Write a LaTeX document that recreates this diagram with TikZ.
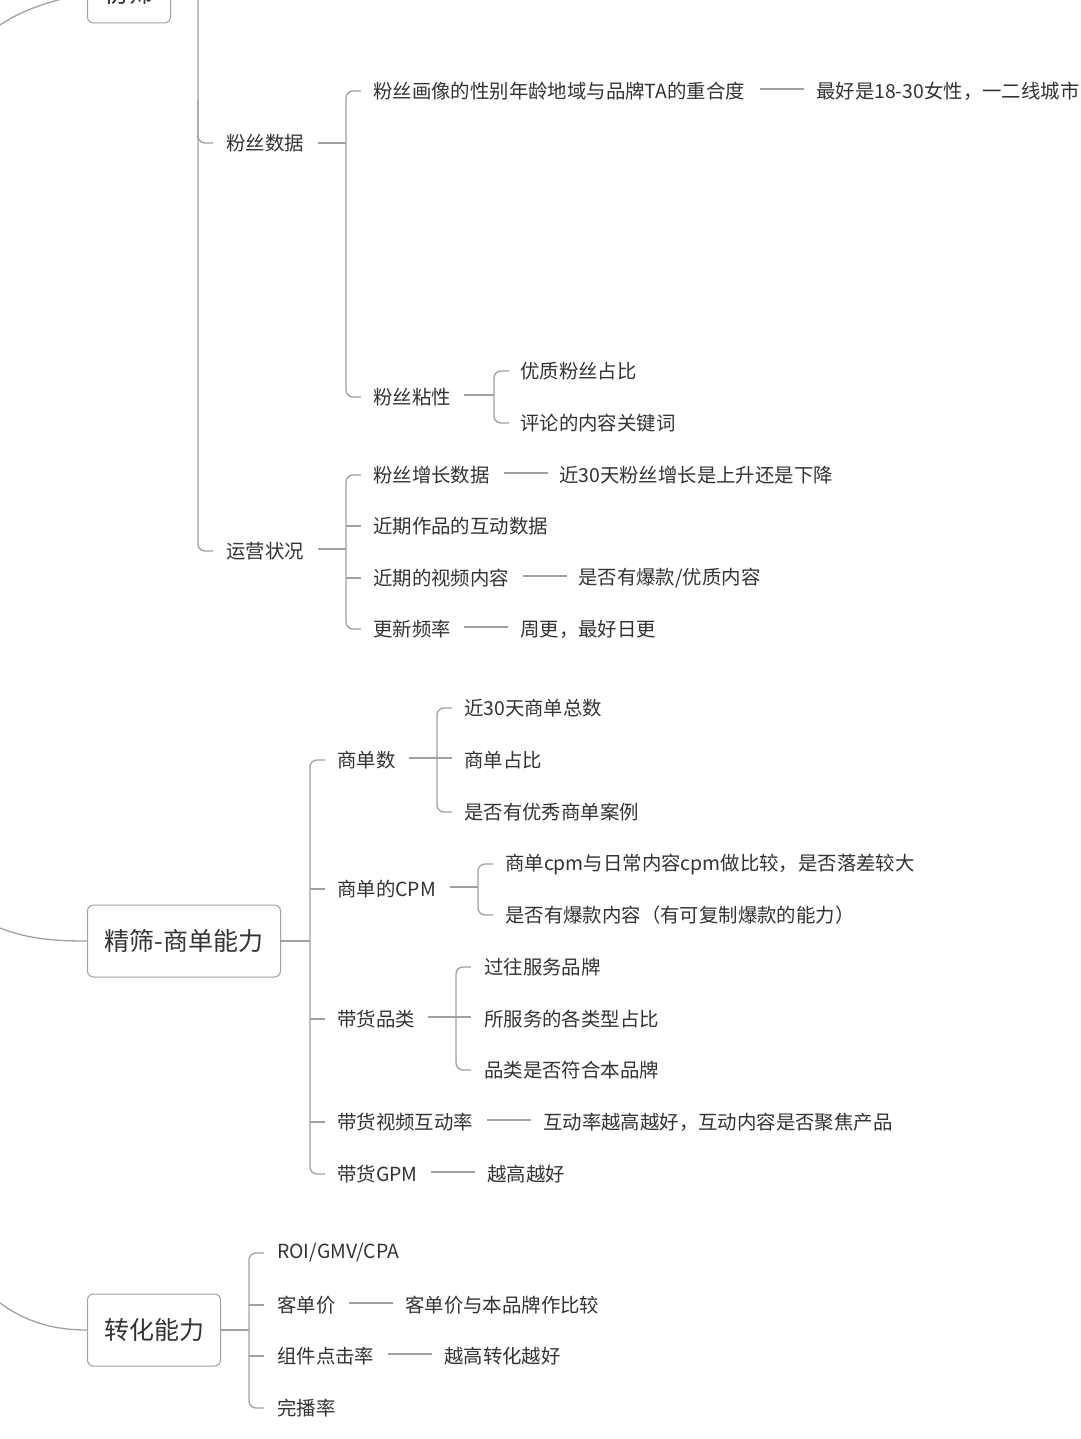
\documentclass[tikz,border=0pt]{standalone}
\usepackage{fontspec}
\setmainfont{Noto Sans CJK SC}
\definecolor{ln}{HTML}{A0A0A0}
\definecolor{tx}{HTML}{333333}
\begin{document}
\begin{tikzpicture}[x=1pt,y=-1pt,
  lf/.style={anchor=west,inner sep=0pt,text=tx,font=\fontsize{19.4}{19.4}\selectfont},
  bx/.style={draw=ln,line width=1pt,rounded corners=6pt,text=tx,font=\fontsize{25}{25}\selectfont,minimum height=72pt,inner xsep=0pt,anchor=west},
  cn/.style={draw=ln,line width=1.3pt},
  br/.style={draw=ln,line width=1.3pt,rounded corners=7pt}]
\useasboundingbox[fill=white] (0,0) rectangle (1080,1439);
% top partial box
\node[bx,minimum width=83pt] (b0) at (87,-13) {};
\node[inner sep=0pt,text=tx,font=\fontsize{25}{25}\selectfont] (b0t) at (128.5,-7) {初筛};
\draw[cn] (0,25) .. controls (30,5) and (60,0) .. (87,-8);
\draw[br] (198,-20) -- (198,143) -- (213,143);
\draw[br] (198,100) -- (198,551) -- (213,551);
% 粉丝数据
\node[lf] (a1) at (226,143) {粉丝数据};
\draw[cn] (318,143) -- (346,143);
\draw[br] (361,91) -- (346,91) -- (346,397) -- (361,397);
\node[lf] (a11) at (373,91) {粉丝画像的性别年龄地域与品牌TA的重合度};
\draw[cn] (760,89) -- (804,89);
\node[lf] (a111) at (816,91) {最好是18-30女性，一二线城市};
\node[lf] (a12) at (373,397) {粉丝粘性};
\draw[cn] (464,395) -- (494,395);
\draw[br] (509,371) -- (494,371) -- (494,423) -- (509,423);
\node[lf] at (520,371) {优质粉丝占比};
\node[lf] at (520,423) {评论的内容关键词};
% 运营状况
\node[lf] (a2) at (226,551) {运营状况};
\draw[cn] (318,549) -- (346,549);
\draw[br] (361,475) -- (346,475) -- (346,629) -- (361,629);
\draw[cn] (346,526) -- (361,526); \draw[cn] (346,578) -- (361,578);
\node[lf] at (373,475) {粉丝增长数据};
\draw[cn] (504,473) -- (548,473);
\node[lf] at (559,475) {近30天粉丝增长是上升还是下降};
\node[lf] at (373,526) {近期作品的互动数据};
\node[lf] at (373,578) {近期的视频内容};
\draw[cn] (523,576) -- (567,576);
\node[lf] at (578,578) {是否有爆款/优质内容};
\node[lf] at (373,629) {更新频率};
\draw[cn] (464,627) -- (508,627);
\node[lf] at (520,629) {周更，最好日更};
% 精筛-商单能力
\node[bx,minimum width=193pt] (b1) at (87,941) {精筛-商单能力};
\draw[cn] (0,928) .. controls (30,940) and (60,941) .. (b1.west);
\draw[cn] (b1.east) -- (310,941);
\draw[br] (325,760) -- (310,760) -- (310,1174) -- (325,1174);
\foreach \y in {889,1019,1122} \draw[cn] (310,\y) -- (325,\y);
\node[lf] at (337,760) {商单数};
\draw[cn] (409,758) -- (452,758);
\draw[br] (452,708) -- (437,708) -- (437,812) -- (452,812);
\node[lf] at (464,708) {近30天商单总数};
\node[lf] at (464,760) {商单占比};
\node[lf] at (464,812) {是否有优秀商单案例};
\node[lf] at (337,889) {商单的CPM};
\draw[cn] (450,887) -- (478,887);
\draw[br] (493,864) -- (478,864) -- (478,915) -- (493,915);
\node[lf] at (505,864) {商单cpm与日常内容cpm做比较，是否落差较大};
\node[lf] at (505,915) {是否有爆款内容（有可复制爆款的能力）};
\node[lf] at (337,1019) {带货品类};
\draw[cn] (428,1017) -- (471,1017);
\draw[br] (471,967) -- (456,967) -- (456,1070) -- (471,1070);
\node[lf] at (484,967) {过往服务品牌};
\node[lf] at (484,1019) {所服务的各类型占比};
\node[lf] at (484,1070) {品类是否符合本品牌};
\node[lf] at (337,1122) {带货视频互动率};
\draw[cn] (487,1120) -- (531,1120);
\node[lf] at (543,1122) {互动率越高越好，互动内容是否聚焦产品};
\node[lf] at (337,1174) {带货GPM};
\draw[cn] (431,1172) -- (475,1172);
\node[lf] at (487,1174) {越高越好};
% 转化能力
\node[bx,minimum width=133pt] (b2) at (87,1330) {转化能力};
\draw[cn] (0,1303) .. controls (30,1325) and (60,1330) .. (b2.west);
\draw[cn] (b2.east) -- (249,1330);
\draw[br] (264,1253) -- (249,1253) -- (249,1408) -- (264,1408);
\foreach \y in {1305,1356} \draw[cn] (249,\y) -- (264,\y);
\node[lf] at (277,1253) {ROI/GMV/CPA};
\node[lf] at (277,1305) {客单价};
\draw[cn] (349,1303) -- (393,1303);
\node[lf] at (405,1305) {客单价与本品牌作比较};
\node[lf] at (277,1356) {组件点击率};
\draw[cn] (388,1354) -- (432,1354);
\node[lf] at (444,1356) {越高转化越好};
\node[lf] at (277,1408) {完播率};
\end{tikzpicture}
\end{document}
